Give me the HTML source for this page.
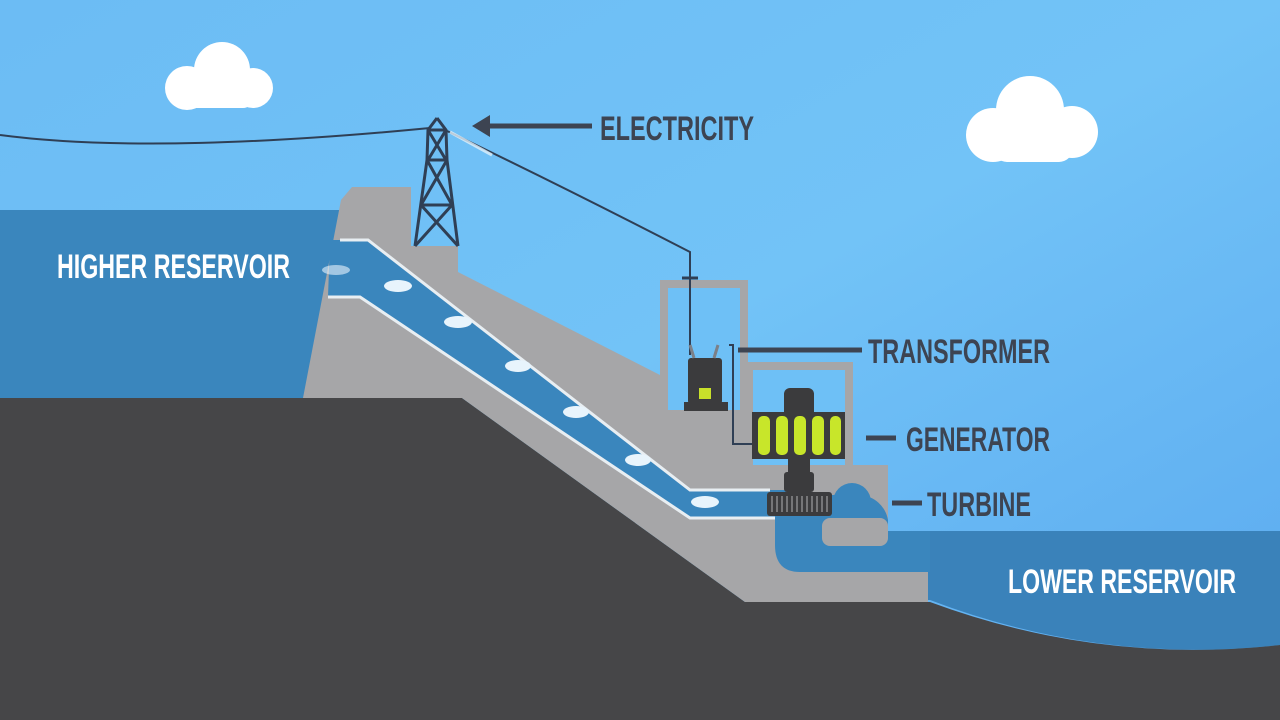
<!DOCTYPE html>
<html><head><meta charset="utf-8"><style>
html,body{margin:0;padding:0;width:1280px;height:720px;overflow:hidden}
svg{display:block}
text{font-family:"Liberation Sans Narrow","Liberation Sans",sans-serif;font-weight:bold}
</style></head><body>
<svg width="1280" height="720" viewBox="0 0 1280 720" xmlns="http://www.w3.org/2000/svg">
<defs>
<linearGradient id="sky" x1="0" y1="0" x2="1" y2="1">
<stop offset="0" stop-color="#6cbcf4"/><stop offset="0.5" stop-color="#72c3f7"/><stop offset="1" stop-color="#5aa9ef"/>
</linearGradient>
</defs>
<rect width="1280" height="720" fill="url(#sky)"/>
<g fill="#fff">
<circle cx="187" cy="88" r="22"/><circle cx="222" cy="70" r="28"/><circle cx="253" cy="88" r="20"/><rect x="187" y="80" width="66" height="28" rx="10"/>
<circle cx="993" cy="135" r="27"/><circle cx="1030" cy="110" r="34"/><circle cx="1072" cy="132" r="26"/><rect x="993" y="120" width="80" height="42" rx="14"/>
</g>
<rect x="0" y="210" width="360" height="190" fill="#3a86bd"/>
<path d="M870 531 H1280 V645 Q1100 665 930 600 H870 Z" fill="#3a82ba"/>
<path d="M0 398 H462 L745 602 H930 Q1100 665 1280 645 V720 H0 Z" fill="#464648"/>
<path d="M303 398 L341 200 L352 187 H411 V246 H458 V272 L660 375 V280 H748 V362 H853 V465 H888 V545 H860 V572 H928 V602 H745 L462 398 Z" fill="#a6a6a8"/>
<rect x="668" y="288" width="72" height="122" fill="#6ec0f6"/>
<rect x="753" y="370" width="92" height="95" fill="#6ec0f6"/>
<rect x="740" y="370" width="13" height="40" fill="#a6a6a8"/>
<rect x="818" y="465" width="40" height="30" fill="#a6a6a8"/>
<path d="M330 240 H368 L690 490 H790 V518 H690 L360 297 H328 Z" fill="#3a86bd"/>
<path d="M340 240 H368 L690 490 H770" fill="none" stroke="#e8eef2" stroke-width="3"/>
<path d="M328 297 H360 L690 518 H775" fill="none" stroke="#e8eef2" stroke-width="3"/>
<path d="M775 495 H860 A30 30 0 0 1 888 520 V531 H930 V572 H800 Q775 572 775 545 Z" fill="#3a86bd"/>
<circle cx="852" cy="502" r="19" fill="#3a86bd"/>
<rect x="822" y="518" width="66" height="28" rx="8" fill="#a6a6a8"/>
<g fill="#e8f4fc">
<ellipse cx="336" cy="270" rx="14" ry="5" opacity="0.6"/>
<ellipse cx="398" cy="286" rx="14" ry="6"/>
<ellipse cx="458" cy="322" rx="14" ry="6"/>
<ellipse cx="518" cy="366" rx="13" ry="6"/>
<ellipse cx="576" cy="412" rx="13" ry="6"/>
<ellipse cx="638" cy="460" rx="13" ry="6"/>
<ellipse cx="705" cy="502" rx="14" ry="6"/>
</g>
<path d="M0 135 Q150 155 430 128" fill="none" stroke="#2f3f55" stroke-width="2"/>
<path d="M445 130 Q560 185 690 252 V355" fill="none" stroke="#2f3f55" stroke-width="2"/>
<path d="M450 132 L492 155" stroke="#e0f0fa" stroke-width="3" opacity="0.8"/>
<line x1="682" y1="278" x2="698" y2="278" stroke="#2f3f55" stroke-width="3"/>
<g fill="none" stroke="#2f3f55" stroke-width="3">
<path d="M437 118 L428 130 L427 160 L415 246 M437 118 L446 130 L447 160 L458 246"/>
<path d="M428 130 L446 160 M446 130 L428 160 M427 160 H447 M427 160 L452 205 M447 160 L421 205 M421 205 H452 M421 205 L458 246 M452 205 L415 246 M428 130 H446"/>
</g>
<rect x="688" y="358" width="34" height="46" rx="3" fill="#3b3b3d"/>
<rect x="684" y="402" width="44" height="9" fill="#3b3b3d"/>
<rect x="699" y="388" width="12" height="11" fill="#c8e02a"/>
<path d="M690 345 L694 358 M718 345 L714 358" stroke="#7c8088" stroke-width="3"/>
<path d="M729 345 H733 V444 H752" fill="none" stroke="#2f3f55" stroke-width="2"/>
<rect x="784" y="388" width="30" height="30" rx="6" fill="#3b3b3d"/>
<rect x="752" y="412" width="93" height="47" fill="#3b3b3d"/>
<g fill="#c8e62a">
<rect x="758" y="416" width="12" height="39" rx="5"/><rect x="776" y="416" width="12" height="39" rx="5"/><rect x="794" y="416" width="12" height="39" rx="5"/><rect x="812" y="416" width="12" height="39" rx="5"/><rect x="830" y="416" width="11" height="39" rx="5"/>
</g>
<rect x="788" y="458" width="22" height="14" fill="#3b3b3d"/>
<rect x="784" y="472" width="30" height="20" rx="3" fill="#3b3b3d"/>
<rect x="767" y="492" width="65" height="24" rx="3" fill="#3b3b3d"/>
<g stroke="#8a8a8c" stroke-width="1.5">
<path d="M772 496 V512 M777 496 V512 M782 496 V512 M787 496 V512 M792 496 V512 M797 496 V512 M802 496 V512 M807 496 V512 M812 496 V512 M817 496 V512 M822 496 V512 M827 496 V512"/>
</g>
<g stroke="#3d4452" stroke-width="5">
<line x1="480" y1="126" x2="592" y2="126"/>
<line x1="738" y1="350" x2="862" y2="350"/>
<line x1="866" y1="438" x2="896" y2="438"/>
<line x1="892" y1="503" x2="922" y2="503"/>
</g>
<path d="M472 126 L490 115 V137 Z" fill="#3d4452"/>
<g fill="#3d4452" font-size="34">
<text x="600" y="140" textLength="154" lengthAdjust="spacingAndGlyphs">ELECTRICITY</text>
<text x="868" y="363" textLength="182" lengthAdjust="spacingAndGlyphs">TRANSFORMER</text>
<text x="906" y="451" textLength="144" lengthAdjust="spacingAndGlyphs">GENERATOR</text>
<text x="927" y="516" textLength="104" lengthAdjust="spacingAndGlyphs">TURBINE</text>
</g>
<g fill="#fff" font-size="34">
<text x="57" y="278" textLength="233" lengthAdjust="spacingAndGlyphs">HIGHER RESERVOIR</text>
<text x="1008" y="593" textLength="228" lengthAdjust="spacingAndGlyphs">LOWER RESERVOIR</text>
</g>
</svg>
</body></html>
